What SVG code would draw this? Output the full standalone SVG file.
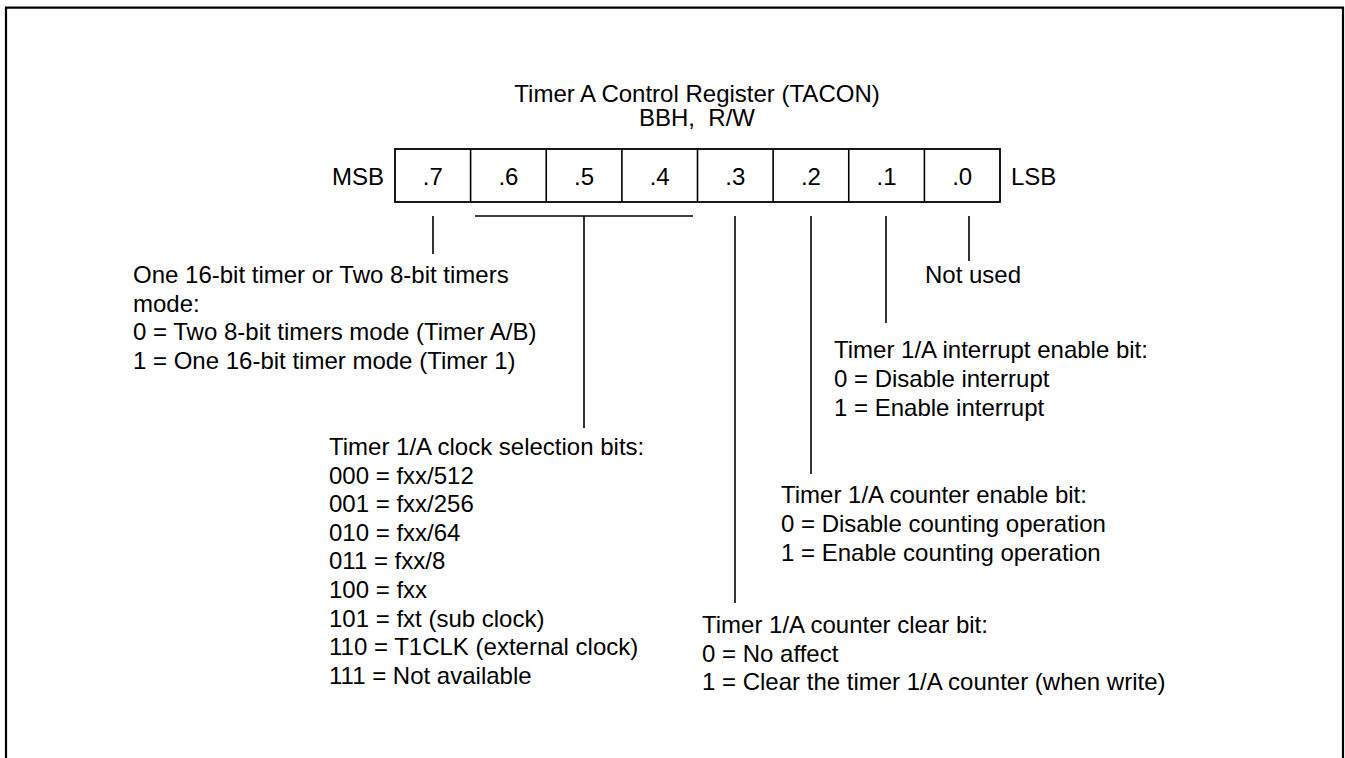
<svg xmlns="http://www.w3.org/2000/svg" width="1345" height="758" viewBox="0 0 1345 758">
<style>
text{font-family:"Liberation Sans",Arial,sans-serif;font-size:24px;fill:#000}
.c{text-anchor:middle}
.ln{stroke:#000;stroke-width:1.6;fill:none}
.bx{stroke:#000;stroke-width:1.8;fill:#fff}
</style>
<rect width="1345" height="758" fill="#fff"/>
<path d="M6 758 V7.7 H1343 V758" fill="none" stroke="#000" stroke-width="2.2"/>
<g id="title">
<text class="c" x="697" y="101.5">Timer A Control Register (TACON)</text>
<text class="c" x="697" y="126" xml:space="preserve">BBH,  R/W</text>
</g>
<g id="register">
<text x="384" y="185" text-anchor="end">MSB</text>
<rect class="bx" x="395" y="149" width="605" height="53"/>
<path class="ln" d="M470.6 149V202M546.25 149V202M621.9 149V202M697.5 149V202M773.1 149V202M848.75 149V202M924.4 149V202"/>
<text class="c" x="432.8" y="185">.7</text>
<text class="c" x="508.4" y="185">.6</text>
<text class="c" x="584.1" y="185">.5</text>
<text class="c" x="659.7" y="185">.4</text>
<text class="c" x="735.3" y="185">.3</text>
<text class="c" x="810.9" y="185">.2</text>
<text class="c" x="886.6" y="185">.1</text>
<text class="c" x="962.2" y="185">.0</text>
<text x="1011" y="185">LSB</text>
</g>
<g id="connectors">
<path class="ln" d="M433 216V254"/>
<path class="ln" d="M475 216H693M584 216V428"/>
<path class="ln" d="M735 216V603"/>
<path class="ln" d="M811 216V474"/>
<path class="ln" d="M886 216V323"/>
<path class="ln" d="M969 216V261"/>
</g>
<g id="bit7">
<text x="133" y="283">One 16-bit timer or Two 8-bit timers</text>
<text x="133" y="311.7">mode:</text>
<text x="133" y="340.4">0 = Two 8-bit timers mode (Timer A/B)</text>
<text x="133" y="369">1 = One 16-bit timer mode (Timer 1)</text>
</g>
<g id="bits6to4">
<text x="329" y="455">Timer 1/A clock selection bits:</text>
<text x="329" y="483.6">000 = fxx/512</text>
<text x="329" y="512.2">001 = fxx/256</text>
<text x="329" y="540.8">010 = fxx/64</text>
<text x="329" y="569.4">011 = fxx/8</text>
<text x="329" y="598">100 = fxx</text>
<text x="329" y="626.6">101 = fxt (sub clock)</text>
<text x="329" y="655.2">110 = T1CLK (external clock)</text>
<text x="329" y="683.8">111 = Not available</text>
</g>
<g id="bit3">
<text x="702" y="633">Timer 1/A counter clear bit:</text>
<text x="702" y="661.6">0 = No affect</text>
<text x="702" y="690.2">1 = Clear the timer 1/A counter (when write)</text>
</g>
<g id="bit2">
<text x="781" y="503.3">Timer 1/A counter enable bit:</text>
<text x="781" y="531.9">0 = Disable counting operation</text>
<text x="781" y="560.5">1 = Enable counting operation</text>
</g>
<g id="bit1">
<text x="834" y="358.3">Timer 1/A interrupt enable bit:</text>
<text x="834" y="386.9">0 = Disable interrupt</text>
<text x="834" y="415.5">1 = Enable interrupt</text>
</g>
<g id="bit0">
<text x="925" y="283">Not used</text>
</g>
</svg>
